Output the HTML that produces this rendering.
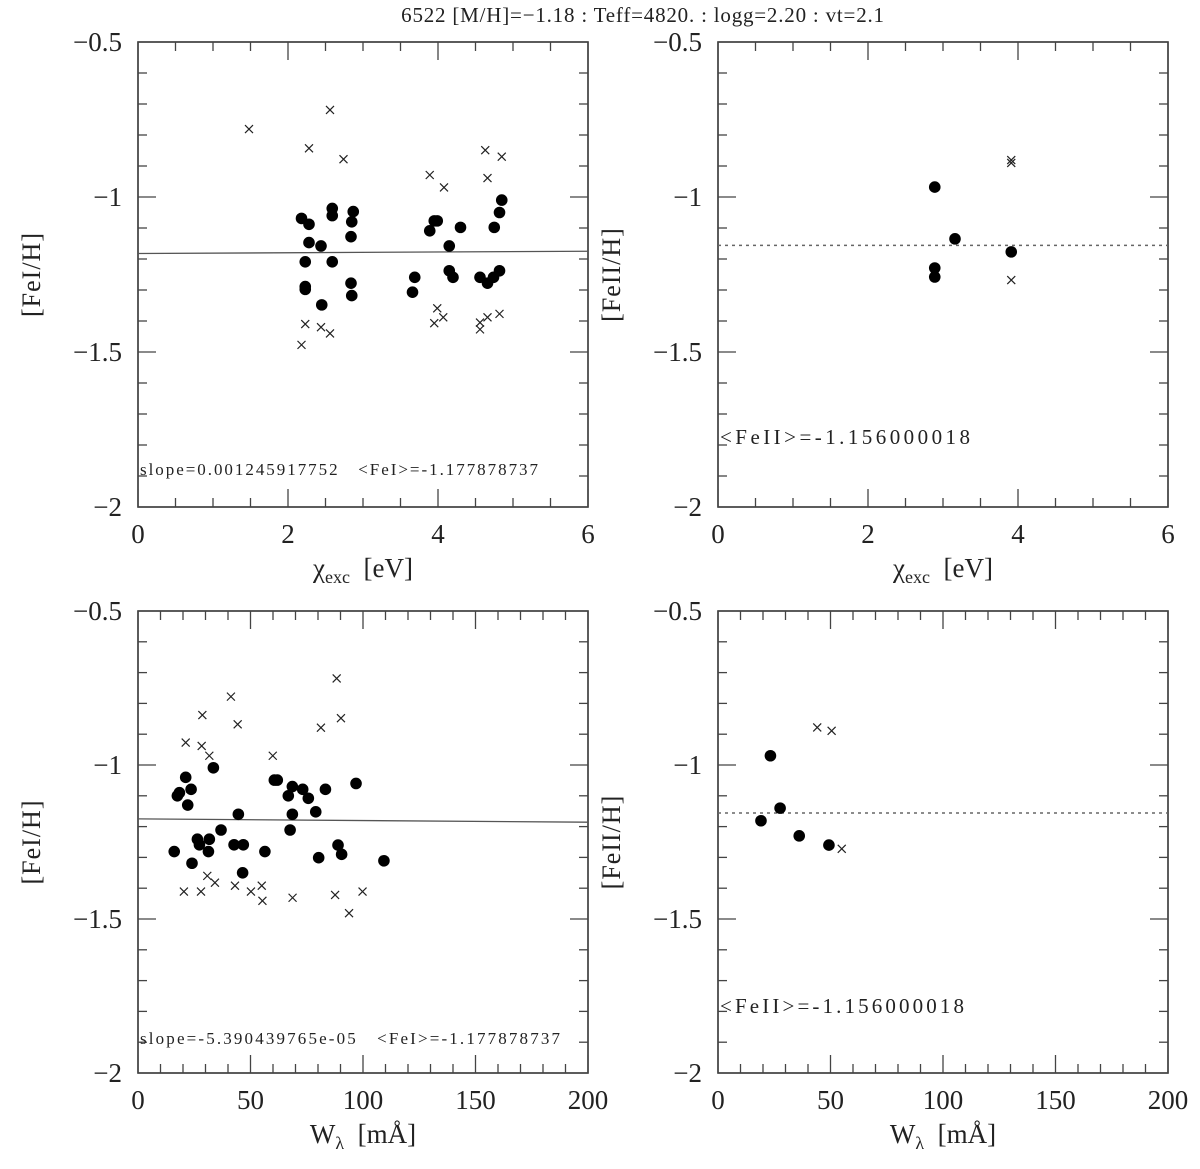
<!DOCTYPE html>
<html><head><meta charset="utf-8"><style>
html,body{margin:0;padding:0;background:#fff;}
svg{display:block;font-family:"Liberation Serif",serif;}
text{white-space:pre;}
</style></head><body>
<svg id="fig" width="1200" height="1169" viewBox="0 0 1200 1169" xmlns="http://www.w3.org/2000/svg">
<text x="643" y="22" font-size="21" text-anchor="middle" fill="#222" letter-spacing="0.8">6522 [M/H]=−1.18 : Teff=4820. : logg=2.20 : vt=2.1</text>
</svg>
<script>
// ---- data ----
const chiFe1Dots = [2.18,2.28,2.28,2.44,2.23,2.23,2.23,2.45,2.59,2.59,2.59,2.87,2.85,2.84,2.84,2.85,3.66,3.69,3.89,3.95,3.99,4.15,4.15,4.2,4.3,4.56,4.66,4.74,4.82,4.75,4.82,4.85];
const abFe1Dots = [-1.069,-1.088,-1.147,-1.158,-1.209,-1.289,-1.298,-1.348,-1.037,-1.06,-1.209,-1.047,-1.08,-1.128,-1.278,-1.318,-1.307,-1.259,-1.109,-1.077,-1.077,-1.158,-1.238,-1.259,-1.098,-1.259,-1.278,-1.259,-1.238,-1.098,-1.05,-1.01];
const chiFe1Cross = [1.48,2.56,2.28,2.74,3.89,4.08,4.63,4.85,4.66,2.18,2.23,2.44,2.56,3.95,3.99,4.07,4.56,4.56,4.66,4.82];
const abFe1Cross = [-0.781,-0.719,-0.843,-0.878,-0.929,-0.969,-0.849,-0.87,-0.939,-1.477,-1.41,-1.42,-1.44,-1.407,-1.359,-1.388,-1.405,-1.427,-1.388,-1.377];
const wFe1Dots = [16.1,17.5,18.4,21.2,23.6,22.1,33.5,24,26.4,27.3,31.7,31.3,36.9,44.6,42.7,46.8,46.5,56.4,60.6,61.9,66.8,68.6,68.6,67.6,73.2,75.7,79,80.3,83.3,88.9,90.5,96.9,109.3];
const wAbFe1Dots = [-1.281,-1.1,-1.09,-1.04,-1.079,-1.13,-1.009,-1.319,-1.241,-1.259,-1.241,-1.281,-1.211,-1.16,-1.259,-1.259,-1.35,-1.281,-1.049,-1.049,-1.1,-1.07,-1.16,-1.211,-1.079,-1.108,-1.152,-1.301,-1.079,-1.26,-1.29,-1.06,-1.311];
const wFe1Cross = [20.4,28,21.2,28.6,28.3,31.7,41.3,44.3,59.9,81.3,88.3,90.2,30.8,34.2,43.1,50.2,55,55.3,68.7,87.6,93.8,99.8];
const wAbFe1Cross = [-1.411,-1.411,-0.927,-0.838,-0.938,-0.97,-0.778,-0.868,-0.97,-0.879,-0.719,-0.848,-1.36,-1.382,-1.392,-1.411,-1.392,-1.441,-1.431,-1.422,-1.481,-1.411];
const chiFe2Dots = [2.89,2.89,2.89,3.16,3.91];
const abFe2Dots = [-0.968,-1.229,-1.258,-1.135,-1.177];
const chiFe2Cross = [3.91,3.91,3.91];
const abFe2Cross = [-0.881,-0.89,-1.268];
const wFe2Dots = [19.1,23.3,27.6,36.1,49.3];
const wAbFe2Dots = [-1.181,-0.97,-1.14,-1.23,-1.26];
const wFe2Cross = [44.1,50.5,55];
const wAbFe2Cross = [-0.878,-0.889,-1.272];
const yTicks = [-0.5,-1,-1.5,-2];
const yTickLabels = ["−0.5","−1","−1.5","−2"];
const chiTicks = [0,2,4,6];
const wTicks = [0,50,100,150,200];
const meanFe1 = -1.177878737, slopeChi = 0.001245917752, slopeW = -5.390439765e-05, meanFe2 = -1.156000018;
const slopeChiText = "0.001245917752", slopeWText = "-5.390439765e-05", meanFe1Text = "-1.177878737", meanFe2Text = "-1.156000018";

const NS = "http://www.w3.org/2000/svg";
const svg = document.getElementById('fig');
function mk(tag, attrs, parent){const e=document.createElementNS(NS,tag);for(const k in attrs)e.setAttribute(k,attrs[k]);(parent||svg).appendChild(e);return e;}

function panel(name, x0,x1,y0,y1, xmax, xTicks, xMinor, ylabel, xlabelHTML){
  const g = mk('g',{});
  
  
  const sx = v => x0 + (x1-x0)*v/xmax;
  const sy = v => y0 + (y1-y0)*(-0.5 - v)/1.5;
  const frame = mk('rect',{x:x0,y:y0,width:x1-x0,height:y1-y0,fill:'none',stroke:'#333','stroke-width':1.6},g);
  
  
  for(let i=0;i<=15;i++){
    const v=-0.5-i*0.1, y=sy(v), L=(i%5===0)?18:9;
    mk('line',{x1:x0,x2:x0+L,y1:y,y2:y,stroke:'#444','stroke-width':1.3},g);
    mk('line',{x1:x1,x2:x1-L,y1:y,y2:y,stroke:'#444','stroke-width':1.3},g);
  }
  yTicks.forEach((v,i)=>{
    const t=mk('text',{x:x0-16,y:sy(v)+9,'font-size':27,'text-anchor':'end',fill:'#222'},g);
    t.textContent=yTickLabels[i];
    
    
  });
  for(let v=0;v<=xmax+1e-9;v+=xMinor){
    const major = xTicks.some(t=>Math.abs(t-v)<1e-9), L=major?18:9, x=sx(v);
    mk('line',{x1:x,x2:x,y1:y1,y2:y1-L,stroke:'#444','stroke-width':1.3},g);
    mk('line',{x1:x,x2:x,y1:y0,y2:y0+L,stroke:'#444','stroke-width':1.3},g);
  }
  xTicks.forEach(v=>{
    const t=mk('text',{x:sx(v),y:y1+36,'font-size':27,'text-anchor':'middle',fill:'#222'},g);
    t.textContent=String(v);
    
    
  });
  const yl=mk('text',{x:0,y:0,'font-size':26,'text-anchor':'middle',fill:'#222',transform:`translate(${x0-98},${(y0+y1)/2}) rotate(-90)`,'letter-spacing':1},g);
  yl.textContent=ylabel;
  
  
  const xl=mk('text',{x:(x0+x1)/2,y:y1+70,'font-size':27,'text-anchor':'middle',fill:'#222'},g);
  xl.innerHTML=xlabelHTML;
  
  
  return {g,sx,sy,x0,x1,y0,y1,xmax};
}
function dots(p,xs,ys){xs.forEach((x,i)=>{const c=mk('circle',{cx:p.sx(x),cy:p.sy(ys[i]),r:5.8,fill:'#000'},p.g);
  
  });}
function crosses(p,xs,ys){xs.forEach((x,i)=>{const cx=p.sx(x),cy=p.sy(ys[i]),d=4;
  const c=mk('path',{d:`M${cx-d},${cy-d}L${cx+d},${cy+d}M${cx-d},${cy+d}L${cx+d},${cy-d}`,stroke:'#222','stroke-width':1.2,fill:'none'},p.g);
  
  });}
function fitLine(p,slope,mean,xmean){
  const a=mean-slope*xmean;
  const l=mk('line',{x1:p.x0,x2:p.x1,y1:p.sy(a),y2:p.sy(a+slope*p.xmax),stroke:'#555','stroke-width':1.3},p.g);
  
  
}
function meanLine(p,mean){
  const l=mk('line',{x1:p.x0,x2:p.x1,y1:p.sy(mean),y2:p.sy(mean),stroke:'#666','stroke-width':1.5,'stroke-dasharray':'3 4'},p.g);
  
  
}
function note(p,txt,y,fs,len){
  const t=mk('text',{x:p.x0+2,y:y,'font-size':fs,fill:'#222',textLength:len,lengthAdjust:'spacing'},p.g);
  t.textContent=txt;
  
  
}
const chiLab='χ<tspan font-size="18" dy="6">exc</tspan><tspan dy="-6">  [eV]</tspan>';
const wLab='W<tspan font-size="18" dy="6">λ</tspan><tspan dy="-6">  [mÅ]</tspan>';

const p1=panel('panel-fe1-chi',138,588,42,507,6,chiTicks,0.5,'[FeI/H]',chiLab);
fitLine(p1,slopeChi,meanFe1,3.6);
crosses(p1,chiFe1Cross,abFe1Cross); dots(p1,chiFe1Dots,abFe1Dots);
note(p1,'slope='+slopeChiText+'   <FeI>='+meanFe1Text,475,17,398);

const p2=panel('panel-fe2-chi',718,1168,42,507,6,chiTicks,0.5,'[FeII/H]',chiLab);
meanLine(p2,meanFe2);
crosses(p2,chiFe2Cross,abFe2Cross); dots(p2,chiFe2Dots,abFe2Dots);
note(p2,'<FeII>='+meanFe2Text,444,21,250);

const p3=panel('panel-fe1-w',138,588,611,1073,200,wTicks,10,'[FeI/H]',wLab);
fitLine(p3,slopeW,meanFe1,55);
crosses(p3,wFe1Cross,wAbFe1Cross); dots(p3,wFe1Dots,wAbFe1Dots);
note(p3,'slope='+slopeWText+'   <FeI>='+meanFe1Text,1044,17,420);

const p4=panel('panel-fe2-w',718,1168,611,1073,200,wTicks,10,'[FeII/H]',wLab);
meanLine(p4,meanFe2);
crosses(p4,wFe2Cross,wAbFe2Cross); dots(p4,wFe2Dots,wAbFe2Dots);
note(p4,'<FeII>='+meanFe2Text,1013,21,244);
</script>
</body></html>
